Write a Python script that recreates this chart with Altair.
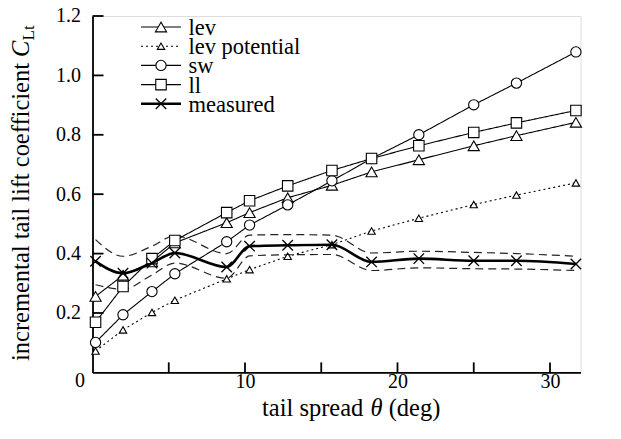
import altair as alt
import pandas as pd

# ---------------- data ----------------
theta = [0.2, 2.0, 3.9, 5.4, 8.8, 10.3, 12.8, 15.7, 18.3, 21.4, 25.0, 27.8, 31.7]
lev = [0.256, 0.327, 0.372, 0.436, 0.504, 0.538, 0.588, 0.630, 0.675, 0.716, 0.763, 0.797, 0.842]
lev_potential = [0.072, 0.143, 0.202, 0.243, 0.315, 0.346, 0.391, 0.430, 0.476, 0.519, 0.565, 0.597, 0.638]
sw = [0.101, 0.194, 0.272, 0.332, 0.440, 0.496, 0.564, 0.645, 0.720, 0.800, 0.901, 0.974, 1.079]
ll = [0.169, 0.289, 0.383, 0.444, 0.538, 0.578, 0.628, 0.680, 0.720, 0.763, 0.808, 0.840, 0.882]
measured = [0.374, 0.334, 0.368, 0.402, 0.355, 0.425, 0.428, 0.430, 0.372, 0.383, 0.376, 0.376, 0.365]
measured_upper = [0.447, 0.391, 0.425, 0.460, 0.400, 0.462, 0.464, 0.462, 0.402, 0.408, 0.404, 0.400, 0.391]
measured_lower = [0.295, 0.280, 0.328, 0.368, 0.317, 0.392, 0.396, 0.397, 0.343, 0.352, 0.349, 0.348, 0.343]

x_tick_values = [5, 10, 15, 20, 25, 30]
x_label_values = [10, 20, 30]
y_tick_values = [0.2, 0.4, 0.6, 0.8, 1.0, 1.2]
legend_labels = ["lev", "lev potential", "sw", "ll", "measured"]

# ---------------- layout / style ----------------
W, H = 488, 356.4
FONT = "Liberation Serif"
FS_TICK = 20
FS_LEG = 22.5
FS_TITLE = 24.5
X_SHAPE = "M -1 -1 L 1 1 M -1 1 L 1 -1"

df = pd.DataFrame({
    "theta": theta, "lev": lev, "lev_potential": lev_potential, "sw": sw,
    "ll": ll, "measured": measured, "upper": measured_upper, "lower": measured_lower,
})

xs = alt.Scale(domain=[0, 32], nice=False, zero=False)
ys = alt.Scale(domain=[0, 1.2], nice=False, zero=False)

x_axis = alt.Axis(values=x_label_values, ticks=False, grid=False, domainColor="black",
                  domainWidth=1.8, labelFont=FONT, labelFontSize=FS_TICK, labelColor="black",
                  labelPadding=-1, labelFlush=False, format="d")
y_axis = alt.Axis(values=y_tick_values, ticks=False, grid=False, domainColor="black",
                  domainWidth=1.8, labelFont=FONT, labelFontSize=FS_TICK, labelColor="black",
                  labelPadding=12, format=".1f", labelFlush=False)

base = alt.Chart(df)

def xenc(field="theta"):
    return alt.X(f"{field}:Q", scale=xs, axis=x_axis, title=None)

def yenc(col):
    return alt.Y(f"{col}:Q", scale=ys, axis=y_axis, title=None)

layers = []

# measurement uncertainty band (dashed)
for col in ["upper", "lower"]:
    layers.append(base.mark_line(color="#222222", strokeWidth=1.2, strokeDash=[8, 5],
                                 interpolate="monotone").encode(x=xenc(), y=yenc(col)))

# model series
series = [
    ("lev", [1, 0], "triangle-up", 125),
    ("lev_potential", [2, 3], "triangle-up", 55),
    ("sw", [1, 0], "circle", 105),
    ("ll", [1, 0], "square", 110),
]
for col, dash, shape, size in series:
    layers.append(base.mark_line(color="black", strokeWidth=1.1, strokeDash=dash)
                  .encode(x=xenc(), y=yenc(col)))
for col, dash, shape, size in series:
    layers.append(base.mark_point(shape=shape, size=size, filled=True, fill="white", stroke="black",
                                  strokeWidth=1.1, opacity=1).encode(x=xenc(), y=yenc(col)))

# measured
layers.append(base.mark_line(color="black", strokeWidth=2.6, interpolate="monotone")
              .encode(x=xenc(), y=yenc("measured")))
layers.append(base.mark_point(shape=X_SHAPE, size=110, filled=False, stroke="black",
                              strokeWidth=1.3, opacity=1).encode(x=xenc(), y=yenc("measured")))

# inward axis ticks
xt = pd.DataFrame({"t": x_tick_values})
layers.append(alt.Chart(xt).mark_rule(color="black", strokeWidth=1.8).encode(
    x=xenc("t"), y=alt.value(H), y2=alt.value(H - 10)))
yt = pd.DataFrame({"t": y_tick_values})
layers.append(alt.Chart(yt).mark_rule(color="black", strokeWidth=1.8).encode(
    y=yenc("t"), x=alt.value(0), x2=alt.value(11)))

# shared origin label "0"
layers.append(alt.Chart(pd.DataFrame({"s": ["0"]})).mark_text(
    font=FONT, fontSize=FS_TICK, color="black", align="center", baseline="top").encode(
    text="s:N", x=alt.value(-12.5), y=alt.value(H - 1)))

# ---------------- legend ----------------
LX0, LX1, LXM, LXT = 48.5, 88.5, 68.5, 96
def row_y(i):
    return 11 + 19.2 * i

leg_styles = [
    (legend_labels[0], [1, 0], 1.1, "triangle-up", 125, True),
    (legend_labels[1], [2, 3], 1.1, "triangle-up", 55, True),
    (legend_labels[2], [1, 0], 1.1, "circle", 105, True),
    (legend_labels[3], [1, 0], 1.1, "square", 110, True),
    (legend_labels[4], [1, 0], 2.6, X_SHAPE, 110, False),
]
for i, (lab, dash, lw, shape, size, filled) in enumerate(leg_styles):
    lb = alt.Chart(pd.DataFrame({"label": [lab]}))
    layers.append(lb.mark_rule(color="black", strokeWidth=lw, strokeDash=dash).encode(
        x=alt.value(LX0), x2=alt.value(LX1), y=alt.value(row_y(i))))
    if filled:
        layers.append(lb.mark_point(shape=shape, size=size, filled=True, fill="white",
                                    stroke="black", strokeWidth=1.1, opacity=1).encode(
            x=alt.value(LXM), y=alt.value(row_y(i))))
    else:
        layers.append(lb.mark_point(shape=shape, size=size, filled=False, stroke="black",
                                    strokeWidth=1.3, opacity=1).encode(
            x=alt.value(LXM), y=alt.value(row_y(i))))
    layers.append(lb.mark_text(font=FONT, fontSize=FS_LEG, color="black", align="left",
                               baseline="middle").encode(
        text="label:N", x=alt.value(LXT), y=alt.value(row_y(i) + 1)))

# ---------------- axis titles (as text, for italic symbols / subscript) ----------------
XT_START = 169.5
XT_BASE = H + 44
def txt(s, x, y, size, style="normal", align="left", angle=0):
    kw = dict(font=FONT, fontSize=size, color="black", align=align, baseline="alphabetic")
    if style != "normal":
        kw["fontStyle"] = style
    if angle:
        kw["angle"] = angle
    return alt.Chart(pd.DataFrame({"s": [s]})).mark_text(**kw).encode(
        text="s:N", x=alt.value(x), y=alt.value(y))

layers.append(txt("tail spread", XT_START, XT_BASE, FS_TITLE))
layers.append(txt("\u03b8", XT_START + 4.43 * FS_TITLE, XT_BASE, FS_TITLE, "italic"))
layers.append(txt("(deg)", XT_START + 5.17 * FS_TITLE, XT_BASE, FS_TITLE))

YT_X = -63.5
YT_END = 47
layers.append(txt("incremental tail lift coefficient", YT_X, YT_END, FS_TITLE, align="right", angle=270))
layers.append(txt("C", YT_X, YT_END - 6, FS_TITLE, "italic", angle=270))
layers.append(txt("Lt", YT_X + 5, YT_END - 6 - 16.5, 17, angle=270))

chart = alt.layer(*layers).properties(
    width=W, height=H,
    autosize=alt.AutoSizeParams(type="none"),
    padding={"left": 84.5, "top": 8, "right": 30, "bottom": 55},
).configure_view(stroke=None).configure(background="white")

chart.save("out.html", embed_options={"renderer": "svg", "actions": False})
